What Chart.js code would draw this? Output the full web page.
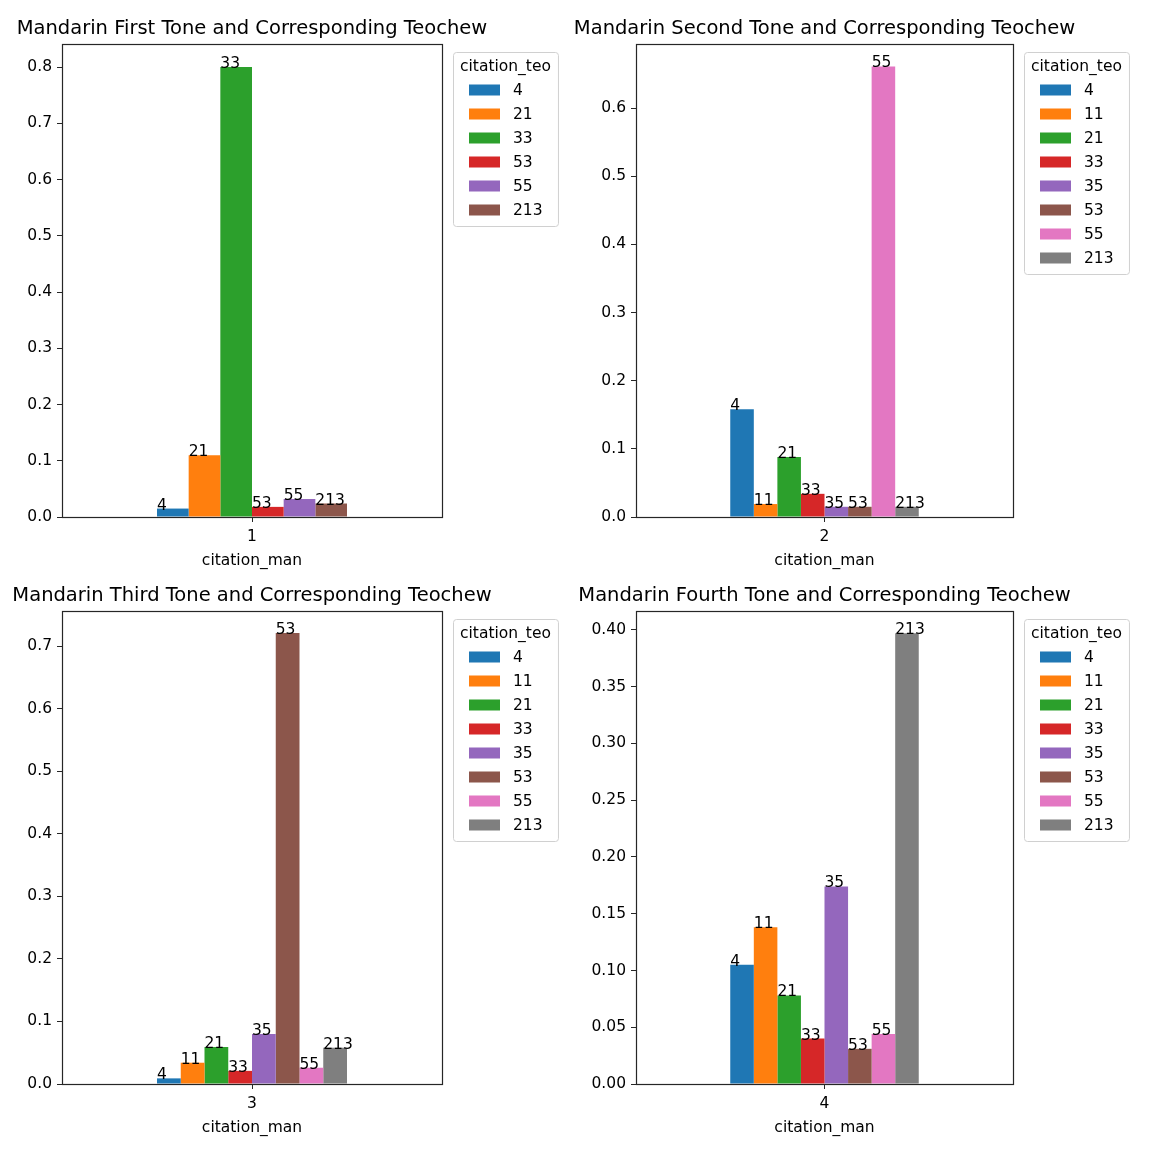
<!DOCTYPE html>
<html>
<head>
<meta charset="utf-8">
<script src="https://cdn.jsdelivr.net/npm/chart.js@4.4.1/dist/chart.umd.min.js"></script>
<style>
    body { margin: 0; background: #fff; width: 1150px; height: 1152px; position: relative; overflow: hidden; }
    .panel { position: absolute; }
</style>
</head>
<body>
<div class="panel" style="left:0px;top:0px;width:575px;height:575px"><canvas id="chart-tone1"></canvas></div>
<div class="panel" style="left:575px;top:0px;width:575px;height:575px"><canvas id="chart-tone2"></canvas></div>
<div class="panel" style="left:0px;top:575px;width:575px;height:577px"><canvas id="chart-tone3"></canvas></div>
<div class="panel" style="left:575px;top:575px;width:575px;height:577px"><canvas id="chart-tone4"></canvas></div>
<script>
// Mandarin tone (x category) per panel
const manTones = ['1', '2', '3', '4'];

const titles = [
    'Mandarin First Tone and Corresponding Teochew',
    'Mandarin Second Tone and Corresponding Teochew',
    'Mandarin Third Tone and Corresponding Teochew',
    'Mandarin Fourth Tone and Corresponding Teochew'
];

// Teochew tones (series) and their shares
const teoTone1 = ['4', '21', '33', '53', '55', '213'];
const shareTone1 = [0.015, 0.110, 0.800, 0.018, 0.032, 0.024];

const teoTone2 = ['4', '11', '21', '33', '35', '53', '55', '213'];
const shareTone2 = [0.158, 0.019, 0.088, 0.034, 0.015, 0.015, 0.661, 0.015];

const teoTone3 = ['4', '11', '21', '33', '35', '53', '55', '213'];
const shareTone3 = [0.009, 0.034, 0.059, 0.021, 0.080, 0.721, 0.026, 0.058];

const teoTone4 = ['4', '11', '21', '33', '35', '53', '55', '213'];
const shareTone4 = [0.105, 0.138, 0.078, 0.040, 0.174, 0.031, 0.044, 0.397];

const tab10 = ['#1f77b4', '#ff7f0e', '#2ca02c', '#d62728', '#9467bd', '#8c564b', '#e377c2', '#7f7f7f'];
const FONT = "'DejaVu Sans', sans-serif";
const SMALL = 15.5;
const BIG = 19.5;

// frame, title, bar labels and boxed legend, matplotlib style
const mplPlugin = {
    id: 'mplDecor',
    afterDatasetsDraw(chart) {
        const ctx = chart.ctx;
        ctx.save();
        ctx.font = SMALL + 'px ' + FONT;
        ctx.fillStyle = '#000';
        ctx.textAlign = 'left';
        ctx.textBaseline = 'alphabetic';
        chart.data.datasets.forEach((ds, i) => {
            chart.getDatasetMeta(i).data.forEach(bar => {
                ctx.fillText(ds.label, bar.x - bar.width / 2, bar.y + 1);
            });
        });
        ctx.restore();
    },
    afterDraw(chart, args, opts) {
        const ctx = chart.ctx;
        const a = chart.chartArea;
        ctx.save();
        // axes frame
        ctx.strokeStyle = '#262626';
        ctx.lineWidth = 1.2;
        ctx.strokeRect(Math.round(a.left) + 0.5, Math.round(a.top) + 0.5,
            Math.round(a.right - a.left), Math.round(a.bottom - a.top));
        // title
        ctx.font = BIG + 'px ' + FONT;
        ctx.fillStyle = '#000';
        ctx.textAlign = 'center';
        ctx.textBaseline = 'alphabetic';
        ctx.fillText(opts.title, (a.left + a.right) / 2, a.top - 10);
        // legend
        const ds = chart.data.datasets;
        ctx.font = SMALL + 'px ' + FONT;
        const legTitle = 'citation_teo';
        const w = ctx.measureText(legTitle).width + 14;
        const h = 38 + (ds.length - 1) * 24 + 16;
        const x0 = a.right + 11, y0 = a.top + 8;
        ctx.beginPath();
        ctx.roundRect(x0 + 0.5, y0 + 0.5, w, h, 3);
        ctx.fillStyle = 'rgba(255,255,255,0.8)';
        ctx.fill();
        ctx.strokeStyle = '#d0d0d0';
        ctx.lineWidth = 1;
        ctx.stroke();
        ctx.fillStyle = '#000';
        ctx.textBaseline = 'middle';
        ctx.fillText(legTitle, x0 + w / 2, y0 + 15);
        ctx.textAlign = 'left';
        ds.forEach((d, i) => {
            const cy = y0 + 38 + i * 24;
            ctx.fillStyle = d.backgroundColor;
            ctx.fillRect(x0 + 16, cy - 5.5, 31, 11);
            ctx.fillStyle = '#000';
            ctx.fillText(d.label, x0 + 60, cy + 1);
        });
        ctx.restore();
    }
};

function makeChart(id, idx, teo, shares, yMax, step, decimals, pad) {
    const ctx = document.getElementById(id).getContext('2d');
    return new Chart(ctx, {
        type: 'bar',
        data: {
            labels: [manTones[idx]],
            datasets: teo.map((t, i) => ({
                label: t,
                data: [shares[i]],
                backgroundColor: tab10[i],
                borderWidth: 0
            }))
        },
        options: {
            responsive: true,
            maintainAspectRatio: false,
            animation: false,
            layout: { padding: { top: pad.top, right: pad.right, bottom: pad.bottom, left: 0 } },
            datasets: { bar: { categoryPercentage: 0.5, barPercentage: 1.0 } },
            plugins: {
                legend: { display: false },
                tooltip: { enabled: false },
                mplDecor: { title: titles[idx] }
            },
            scales: {
                x: {
                    offset: true,
                    grid: { display: true, drawOnChartArea: false, offset: false, tickLength: 5, color: '#262626', tickWidth: 1 },
                    border: { display: false },
                    ticks: { font: { family: FONT, size: SMALL }, color: '#000', padding: 6 },
                    title: { display: true, text: 'citation_man', font: { family: FONT, size: SMALL }, color: '#000', padding: { top: 3, bottom: 0 } },
                    afterFit: s => { s.height = 53; }
                },
                y: {
                    min: 0,
                    max: yMax,
                    grid: { display: true, drawOnChartArea: false, tickLength: 5, color: '#262626', tickWidth: 1 },
                    border: { display: false },
                    ticks: {
                        stepSize: step,
                        includeBounds: false,
                        font: { family: FONT, size: SMALL },
                        color: '#000',
                        padding: 5,
                        callback: v => v.toFixed(decimals)
                    },
                    afterFit: s => { s.width = pad.left; }
                }
            }
        },
        plugins: [mplPlugin]
    });
}

makeChart('chart-tone1', 0, teoTone1, shareTone1, 0.841, 0.1, 1, { top: 44, right: 133, bottom: 5, left: 62 });
makeChart('chart-tone2', 1, teoTone2, shareTone2, 0.694, 0.1, 1, { top: 44, right: 137, bottom: 5, left: 61 });
makeChart('chart-tone3', 2, teoTone3, shareTone3, 0.756, 0.1, 1, { top: 36, right: 133, bottom: 15, left: 62 });
makeChart('chart-tone4', 3, teoTone4, shareTone4, 0.4167, 0.05, 2, { top: 36, right: 137, bottom: 15, left: 61 });
</script>
</body>
</html>
